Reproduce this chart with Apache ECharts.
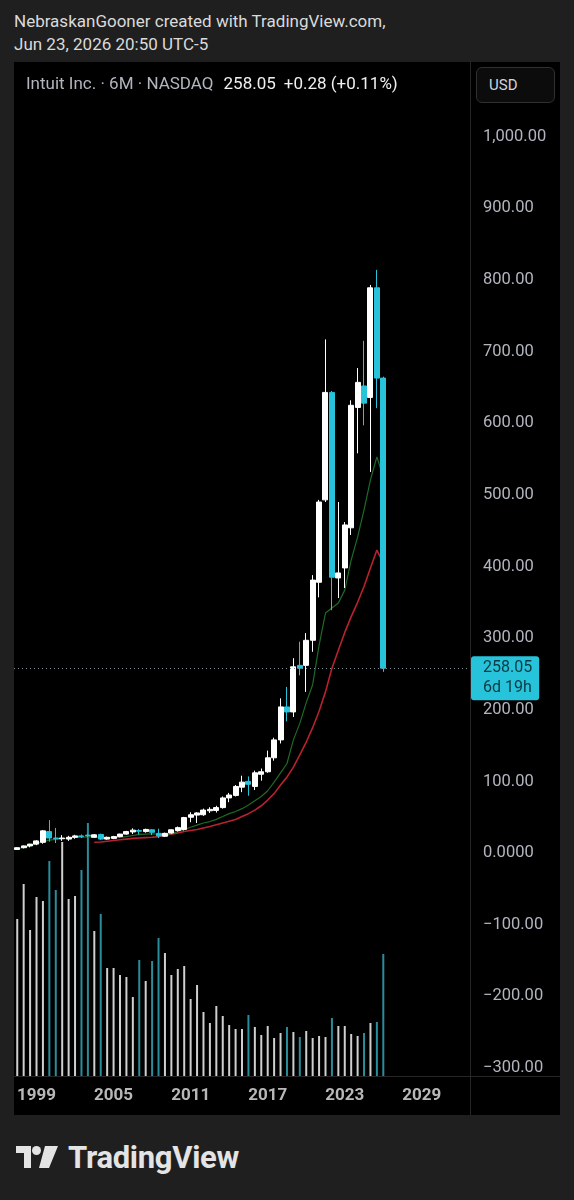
<!DOCTYPE html>
<html>
<head>
<meta charset="utf-8">
<title>INTU 6M</title>
<script src="https://cdn.jsdelivr.net/npm/echarts@6/dist/echarts.min.js"></script>
<style>
  html, body { margin: 0; padding: 0; width: 574px; height: 1200px; overflow: hidden; background: #1f1f1f; font-family: Roboto, 'Noto Sans', sans-serif; }
  .hdr { position: absolute; left: 14px; top: 10px; color: #dadada; font-size: 17px; line-height: 23px; }
  #panel { position: absolute; left: 14px; top: 62px; width: 546px; height: 1053px; background: #000; }
  #chart { position: absolute; left: 0; top: 0; width: 546px; height: 1053px; }
  .legend { position: absolute; left: 12px; top: 11px; font-size: 17px; line-height: 20px; color: #b2b5be; white-space: nowrap; }
  .legend .v { color: #f0f0f0; margin-left: 10px; }
  .legend .c { color: #f0f0f0; margin-left: 8px; }
  .usd { position: absolute; left: 462px; top: 5px; width: 77px; height: 34px; border: 1px solid #303030; border-radius: 6px; background: #0c0c0c; color: #d1d4dc; font-size: 15px; line-height: 34px; box-sizing: content-box; }
  .usd span { margin-left: 12px; }
  .vsep { position: absolute; left: 456px; top: 0; width: 1px; height: 1053px; background: #262626; }
  .hsep { position: absolute; left: 0; top: 1014px; width: 546px; height: 1px; background: #262626; }
  .logo { position: absolute; left: 16px; top: 1140px; height: 34px; display: flex; align-items: center; color: #e4e4e4; }
  .logo .txt { font-size: 31px; font-weight: bold; margin-left: 10px; letter-spacing: -0.3px; }
</style>
</head>
<body>
<div class="hdr">NebraskanGooner created with TradingView.com,<br>Jun 23, 2026 20:50 UTC-5</div>
<div id="panel">
  <div id="chart"></div>
  <div class="vsep"></div>
  <div class="hsep"></div>
  <div class="legend">Intuit Inc. · 6M · NASDAQ<span class="v">258.05</span><span class="c">+0.28 (+0.11%)</span></div>
  <div class="usd"><span>USD</span></div>
</div>
<div class="logo">
  <svg width="42" height="22" viewBox="0 0 42 22"><path d="M0 0H15V22H8V7H0Z" fill="#e4e4e4"/><circle cx="20.5" cy="4.5" r="4.5" fill="#e4e4e4"/><path d="M29 0H42L33 22H23Z" fill="#e4e4e4"/></svg>
  <span class="txt">TradingView</span>
</div>
<script>
// half-year candles, first one is Jul 1997, empty slots after the last to fill the scale
const CATEGORIES = [];
for (let y = 1997; y <= 2032; y++) {
  if (y > 1997) CATEGORIES.push(y + '-01');
  CATEGORIES.push(y + '-07');
}
const TIME_TICKS = ['1999', '2005', '2011', '2017', '2023', '2029'];

const OPEN  = [5,7.5,10,12.5,15,30,21,20,19.5,22,24,25,22,26,19.5,20.5,23,26.5,29.5,31.5,30,32.5,27.5,23.5,28,31.5,33,50,53,53.5,59,59.5,63.5,77,80.5,92,100,93,110,113.5,133,158,204,197,262,262,297,378,493,643,384,398,454,622,652,636,789,663];
const CLOSE = [7.5,10,12.5,17,31,21,20,21,22,24,23,24,25.5,19.5,22,23,26.5,30,32,30.5,33,29,24,27.5,32.5,35.5,49.5,53.5,56,60,61,63.5,77,81,93,99,96,112,113.5,133,158,204,197,260,258,297,381,490,643,385,391,458,625,657,628,789,663,258.05];
const LOW   = [4.5,6.5,8,11,13,16,14,17,17,20,21,22,21,18,18.5,19.5,22,25.5,26.5,26,28.5,25,21,22.5,27,30,31.5,43,42,52,56,56.5,62,71,79,85,80,88,101,112,129,153,184,190,248,225,281,357,490,339,356,370,444,558,597,532,621,253];
const HIGH  = [8,10.5,13,18,32,46,35,25,24,25.5,26,27,26.5,27,23,24,27,31,34.5,33.5,34,33.5,34,28.5,33,37,50.5,57,57,62,64,66,79,84,95,108,107,115,118,143,161,216,232,272,295,307,388,493,717,645,490,462,632,677,715,793,814,665];
const VOLUME = [157,192,146,179,175,215,186,234,177,180,206,253,145,162,108,108,101,99,79,116,95,115,138,123,101,107,110,77,91,64,53,70,60,51,47,47,61,49,41,50,38,43,49,44,39,45,38,40,39,58,50,50,42,40,43,53,54,122];
const MA_FAST = [6,8,10,13,16,18,19,20,21,22,22,22.5,22.5,22,21.5,21.5,22,23,24.5,26,26.5,27,26,25,27.5,30,33,36,39,42,44,47,51,55,58,62,67,73,79,87,99,112,125,158,181,210,235,290,335,342,349,367,409,441,479,521,553,525];
const MA_SLOW = ['-','-','-','-','-','-','-','-','-','-','-','-',15,15.5,16.5,17.5,18.5,19.5,20.5,21,21.5,22,23,24.5,26.5,28,30,31.5,33,35,37,39.5,42,44.5,47,51,55,60,66,74,83,95,106,120,137,155,175,198,225,258,283,308,330,350,372,398,423,405];

const LAST_PRICE = 258.05;
const COUNTDOWN = '6d 19h';

const UP = '#ffffff', DOWN = '#26c3da';
const VOL_UP = '#cfcfcf', VOL_DOWN = '#2a8d9c';

const candles = OPEN.map((o, i) => [o, CLOSE[i], LOW[i], HIGH[i]]);
const volData = VOLUME.map((v, i) => ({
  value: v,
  itemStyle: { color: CLOSE[i] >= OPEN[i] ? VOL_UP : VOL_DOWN }
}));

function fmtPrice(v) {
  if (v === 0) return '0.0000';
  const s = Math.abs(v).toLocaleString('en-US', { minimumFractionDigits: 2, maximumFractionDigits: 2 });
  return v < 0 ? '\u2212' + s : s;
}

const chart = echarts.init(document.getElementById('chart'));
chart.setOption({
  animation: false,
  textStyle: { fontFamily: 'Roboto' },
  grid: [
    { left: 0, right: 90, top: 3, bottom: 47 },
    { left: 0, right: 90, top: 738, bottom: 39 }
  ],
  xAxis: [
    { type: 'category', gridIndex: 0, data: CATEGORIES, show: false },
    {
      type: 'category', gridIndex: 1, data: CATEGORIES,
      axisLine: { show: false }, axisTick: { show: false }, splitLine: { show: false },
      axisLabel: {
        interval: (idx, val) => val.endsWith('-01') && TIME_TICKS.includes(val.slice(0, 4)),
        formatter: (val) => val.slice(0, 4),
        color: '#b8b8b8', fontSize: 17, fontWeight: 'bold', margin: 11
      }
    }
  ],
  yAxis: [
    {
      type: 'value', gridIndex: 0, position: 'right', min: -300, max: 1100, interval: 100,
      axisLine: { show: false }, axisTick: { show: false }, splitLine: { show: false },
      axisLabel: { showMaxLabel: false, color: '#b2b5be', fontSize: 16.5, margin: 13, formatter: fmtPrice }
    },
    { type: 'value', gridIndex: 1, min: 0, max: 276, show: false }
  ],
  series: [
    {
      type: 'bar', name: 'Volume', xAxisIndex: 1, yAxisIndex: 1,
      data: volData, barWidth: 2, z: 1
    },
    {
      type: 'line', name: 'MA slow', data: MA_SLOW, symbol: 'none',
      lineStyle: { color: '#b8222f', width: 1.6 }, z: 2
    },
    {
      type: 'line', name: 'MA fast', data: MA_FAST, symbol: 'none',
      lineStyle: { color: '#1d6a27', width: 1.2 }, z: 2
    },
    {
      type: 'candlestick', name: 'INTU', data: candles, barWidth: 5.5, z: 3,
      itemStyle: { color: UP, color0: DOWN, borderColor: UP, borderColor0: DOWN, borderWidth: 1 },
      markLine: {
        symbol: ['none', 'none'], silent: true, animation: false,
        lineStyle: { type: [1, 3], color: '#7d9095', width: 1 },
        label: {
          show: true, position: 'end', distance: 1, offset: [0, 10],
          formatter: LAST_PRICE.toFixed(2) + '\n' + COUNTDOWN,
          backgroundColor: DOWN, color: '#0b3a42', fontSize: 16, lineHeight: 20,
          padding: [2, 7, 2, 12], borderRadius: 3
        },
        data: [{ yAxis: LAST_PRICE }]
      }
    }
  ]
});
</script>
</body>
</html>
